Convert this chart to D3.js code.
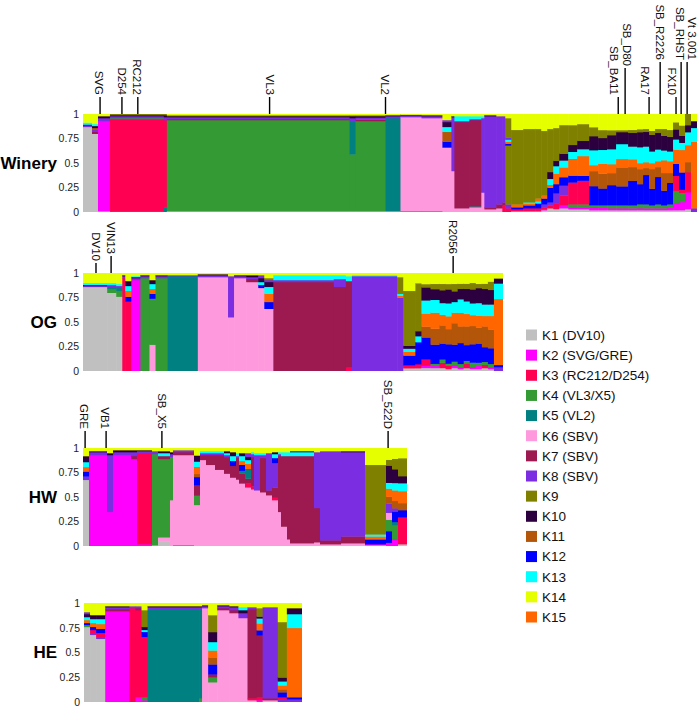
<!DOCTYPE html>
<html><head><meta charset="utf-8">
<script src="https://cdn.jsdelivr.net/npm/d3@7"></script>
<style>body{margin:0;background:#fff}svg{display:block}</style>
</head><body>
<svg id="chart" width="700" height="710"></svg>
<script>
// ---------- data ----------
const clusterNames = ["K1 (DV10)","K2 (SVG/GRE)","K3 (RC212/D254)","K4 (VL3/X5)","K5 (VL2)","K6 (SBV)","K7 (SBV)","K8 (SBV)","K9","K10","K11","K12","K13","K14","K15"];
const clusterColors = ["#c0c0c0","#ff00ff","#ff0052","#349a34","#008080","#ff99dd","#9c1a50","#7b2de2","#808000","#2c003f","#b3560a","#0000ff","#00ffff","#e6ff00","#ff6600"];
const tickValues = [0, 0.25, 0.5, 0.75, 1];
const tickLabels = ["0", "0.25", "0.5", "0.75", "1"];
const panelNames = ["Winery", "OG", "HW", "HE"];

// each bar: [number of samples, [cluster, share, cluster, share, ...] bottom to top]
const wineryBars = [
  [3, [1,.86, 6,.01, 8,.015, 10,.01, 13,.02, 14,.085]],
  [2, [1,.80, 7,.02, 8,.02, 11,.02, 10,.02, 13,.02, 14,.10]],
  [4, [1,.01, 2,.92, 8,.03, 10,.02, 14,.02]],
  [18, [2,.01, 3,.94, 4,.01, 8,.02, 10,.01, 9,.01]],
  [1, [5,.05, 3,.89, 8,.03, 10,.02, 9,.01]],
  [61, [6,.01, 4,.93, 7,.01, 8,.02, 10,.01, 9,.01, 14,.01]],
  [2, [6,.01, 4,.58, 5,.34, 8,.03, 10,.02, 9,.01, 14,.01]],
  [10, [6,.01, 4,.92, 7,.015, 8,.02, 10,.015, 9,.01, 14,.01]],
  [5, [6,.01, 5,.95, 8,.02, 10,.01, 14,.01]],
  [7, [2,.01, 6,.96, 8,.02, 10,.005, 14,.005]],
  [7, [2,.01, 6,.95, 8,.02, 10,.01, 14,.01]],
  [3, [6,.66, 12,.06, 11,.1, 13,.05, 10,.05, 8,.02, 14,.06]],
  [1, [6,.42, 8,.55, 10,.01, 14,.02]],
  [5, [6,.04, 7,.88, 8,.01, 13,.05, 14,.02]],
  [4, [6,.05, 5,.01, 7,.88, 8,.01, 13,.03, 14,.02]],
  [1, [6,.2, 8,.76, 13,.02, 14,.02]],
  [4, [6,.03, 7,.02, 8,.93, 10,.01, 14,.01]],
  [2, [6,.04, 7,.04, 8,.9, 14,.02]],
  [1, [3,.07, 7,.03, 8,.88, 14,.02]],
  [2, [3,.04, 8,.04, 9,.6, 12,.02, 15,.02, 13,.02, 8,.02, 9,.2, 14,.04]],
  [4, [1,.01, 3,.02, 12,.02, 15,.03, 9,.76, 14,.16]],
  [4, [1,.01, 3,.03, 12,.03, 15,.02, 13,.01, 9,.75, 14,.15]],
  [2, [1,.01, 3,.03, 12,.05, 13,.02, 15,.03, 9,.71, 14,.15]],
  [2, [1,.02, 2,.01, 3,.02, 8,.03, 12,.06, 15,.03, 9,.66, 14,.17]],
  [2, [1,.04, 3,.03, 8,.03, 12,.15, 15,.03, 13,.06, 10,.07, 9,.44, 14,.15]],
  [2, [1,.03, 3,.05, 8,.1, 12,.085, 15,.1, 13,.07, 10,.05, 9,.31, 14,.13]],
  [3, [1,.04, 2,.03, 3,.1, 8,.1, 12,.085, 15,.1, 13,.07, 10,.07, 9,.29, 14,.11]],
  [3, [1,.03, 2,.02, 4,.03, 3,.22, 12,.07, 15,.17, 13,.07, 10,.07, 9,.2, 14,.11]],
  [4, [1,.03, 2,.02, 4,.03, 3,.24, 12,.05, 15,.2, 13,.07, 10,.085, 9,.17, 14,.1]],
  [3, [1,.02, 2,.03, 4,.02, 12,.19, 11,.15, 15,.06, 13,.15, 10,.14, 9,.09, 14,.13]],
  [3, [1,.02, 2,.03, 4,.02, 12,.17, 11,.15, 15,.1, 13,.14, 10,.12, 9,.08, 14,.16]],
  [3, [1,.02, 2,.02, 4,.03, 12,.2, 11,.12, 15,.09, 13,.15, 10,.14, 9,.05, 14,.16]],
  [4, [1,.02, 2,.02, 4,.03, 12,.19, 11,.19, 15,.085, 13,.15, 10,.12, 9,.02, 14,.16]],
  [3, [1,.02, 2,.02, 4,.03, 12,.25, 11,.14, 15,.08, 13,.13, 10,.14, 9,.03, 14,.16]],
  [2, [1,.02, 2,.02, 4,.04, 12,.2, 11,.15, 15,.06, 13,.16, 10,.15, 9,.03, 14,.15]],
  [2, [1,.02, 2,.02, 4,.04, 12,.3, 11,.07, 15,.06, 13,.16, 10,.15, 9,.03, 14,.15]],
  [2, [1,.02, 2,.02, 4,.03, 12,.17, 11,.2, 15,.06, 13,.12, 10,.17, 9,.04, 14,.17]],
  [2, [1,.02, 2,.02, 4,.04, 12,.28, 11,.1, 15,.06, 13,.12, 10,.17, 9,.04, 14,.15]],
  [2, [1,.02, 2,.02, 4,.03, 12,.15, 11,.18, 15,.13, 13,.1, 10,.15, 9,.07, 14,.15]],
  [2, [1,.02, 2,.03, 4,.03, 12,.22, 11,.1, 15,.12, 13,.1, 10,.15, 9,.07, 14,.16]],
  [2, [1,.02, 2,.07, 4,.12, 3,.15, 12,.12, 15,.14, 13,.1, 10,.1, 9,.07, 14,.08]],
  [2, [1,.02, 2,.08, 4,.09, 3,.03, 12,.17, 15,.22, 13,.07, 10,.07, 9,.1, 14,.11]],
  [2, [1,.03, 2,.17, 3,.2, 11,.1, 15,.17, 13,.13, 10,.07, 9,.11]],
  [2, [8,.04, 15,.68, 13,.14, 10,.07, 14,.07]]
];

const ogBars = [
  [8, [1,.85, 6,.01, 8,.01, 10,.01, 13,.02, 14,.1]],
  [3, [1,.80, 4,.04, 5,.02, 8,.02, 13,.02, 14,.1]],
  [2, [1,.76, 4,.06, 5,.03, 8,.02, 13,.02, 14,.11]],
  [1, [3,.95, 8,.02, 10,.01, 14,.02]],
  [2, [3,.71, 12,.05, 15,.06, 13,.05, 10,.05, 14,.08]],
  [3, [2,.93, 8,.02, 10,.01, 13,.01, 14,.03]],
  [3, [4,.95, 8,.02, 10,.01, 14,.02]],
  [2, [6,.27, 4,.47, 12,.05, 15,.05, 13,.05, 10,.04, 14,.07]],
  [4, [4,.95, 8,.02, 10,.01, 14,.02]],
  [10, [5,.97, 8,.01, 14,.02]],
  [10, [6,.96, 8,.02, 10,.01, 14,.01]],
  [2, [6,.55, 8,.42, 14,.03]],
  [4, [6,.95, 8,.02, 10,.01, 14,.02]],
  [4, [6,.91, 7,.03, 8,.02, 10,.02, 14,.02]],
  [2, [6,.85, 12,.03, 13,.03, 10,.04, 8,.03, 14,.02]],
  [3, [6,.64, 12,.07, 15,.085, 13,.07, 10,.05, 8,.02, 9,.02, 14,.05]],
  [20, [7,.91, 8,.02, 13,.05, 14,.02]],
  [4, [7,.86, 8,.08, 13,.04, 14,.02]],
  [2, [3,.04, 7,.88, 13,.05, 14,.03]],
  [15, [8,.97, 13,.01, 14,.02]],
  [2, [8,.75, 15,.02, 13,.02, 9,.17, 14,.04]],
  [4, [1,.03, 3,.03, 12,.1, 15,.04, 13,.03, 10,.03, 9,.56, 14,.18]],
  [2, [1,.03, 3,.04, 12,.22, 13,.06, 10,.05, 9,.48, 14,.1]],
  [3, [1,.03, 2,.02, 3,.06, 12,.2, 11,.1, 15,.12, 13,.12, 10,.12, 9,.03, 14,.1]],
  [3, [1,.03, 2,.02, 4,.02, 12,.18, 11,.15, 15,.15, 13,.12, 10,.1, 9,.05, 14,.1]],
  [2, [1,.03, 3,.05, 4,.03, 12,.15, 11,.17, 15,.1, 13,.11, 10,.12, 9,.06, 14,.1]],
  [2, [1,.02, 3,.03, 4,.02, 12,.18, 11,.14, 15,.12, 13,.12, 10,.13, 9,.05, 14,.1]],
  [2, [1,.03, 2,.03, 4,.03, 12,.16, 11,.2, 15,.1, 13,.1, 10,.1, 9,.07, 14,.1]],
  [2, [1,.02, 2,.02, 4,.03, 12,.2, 11,.16, 15,.13, 13,.13, 10,.1, 9,.05, 14,.1]],
  [2, [1,.03, 3,.04, 4,.03, 12,.15, 11,.18, 15,.12, 13,.12, 10,.12, 9,.05, 14,.1]],
  [2, [1,.02, 2,.02, 4,.04, 12,.17, 11,.17, 15,.1, 13,.11, 10,.13, 9,.06, 14,.09]],
  [2, [1,.02, 2,.03, 4,.03, 12,.18, 11,.15, 15,.11, 13,.12, 10,.14, 9,.04, 14,.1]],
  [2, [1,.03, 3,.03, 4,.03, 12,.14, 11,.2, 15,.1, 13,.11, 10,.15, 9,.05, 14,.1]],
  [2, [1,.02, 2,.02, 4,.03, 12,.15, 11,.18, 15,.13, 13,.11, 10,.14, 9,.08, 14,.08]],
  [3, [8,.04, 12,.02, 15,.64, 13,.15, 10,.05, 14,.05]]
];

const hwBars = [
  [2, [1,.67, 8,.035, 12,.05, 15,.045, 13,.05, 10,.06, 14,.08]],
  [6, [2,.93, 8,.03, 10,.01, 14,.03]],
  [2, [2,.35, 8,.58, 10,.02, 14,.05]],
  [6, [2,.93, 8,.03, 10,.02, 14,.02]],
  [2, [2,.89, 7,.03, 8,.04, 10,.02, 14,.02]],
  [5, [2,.02, 3,.93, 8,.02, 10,.01, 14,.02]],
  [2, [1,.01, 4,.93, 8,.03, 14,.03]],
  [4, [1,.05, 6,.04, 4,.8, 7,.03, 13,.03, 10,.02, 14,.03]],
  [1, [6,.47, 4,.44, 8,.03, 10,.02, 14,.04]],
  [7, [2,.01, 6,.92, 7,.03, 8,.02, 14,.02]],
  [2, [6,.4, 4,.09, 7,.1, 12,.08, 11,.03, 15,.07, 13,.05, 10,.06, 14,.07]],
  [2, [6,.88, 7,.05, 8,.02, 13,.02, 14,.03]],
  [3, [6,.83, 7,.1, 8,.02, 13,.02, 14,.03]],
  [3, [6,.78, 7,.15, 8,.02, 13,.02, 14,.03]],
  [2, [6,.74, 7,.17, 8,.02, 13,.02, 10,.02, 14,.03]],
  [2, [6,.7, 7,.12, 12,.05, 13,.05, 10,.04, 14,.04]],
  [1, [6,.68, 7,.22, 8,.02, 13,.03, 14,.05]],
  [2, [6,.64, 7,.1, 5,.03, 12,.06, 15,.04, 13,.05, 10,.03, 14,.05]],
  [2, [6,.6, 3,.04, 7,.05, 5,.1, 15,.05, 13,.04, 10,.03, 8,.04, 14,.05]],
  [1, [6,.58, 3,.03, 7,.3, 8,.03, 13,.02, 14,.04]],
  [2, [6,.57, 8,.36, 13,.02, 14,.05]],
  [2, [6,.55, 7,.35, 8,.03, 13,.02, 14,.05]],
  [2, [6,.52, 7,.05, 8,.38, 14,.05]],
  [2, [6,.47, 3,.03, 7,.1, 8,.25, 12,.05, 13,.04, 10,.02, 14,.04]],
  [1, [6,.35, 7,.57, 8,.02, 13,.02, 14,.04]],
  [2, [6,.2, 7,.72, 13,.04, 14,.04]],
  [1, [6,.07, 7,.85, 13,.04, 14,.04]],
  [8, [6,.03, 7,.89, 13,.04, 10,.01, 14,.03]],
  [2, [6,.04, 7,.35, 8,.57, 14,.04]],
  [7, [6,.02, 7,.04, 8,.91, 14,.03]],
  [8, [6,.03, 7,.07, 8,.86, 10,.01, 14,.03]],
  [7, [1,.01, 2,.01, 12,.05, 15,.03, 13,.02, 9,.71, 14,.17]],
  [2, [2,.03, 12,.1, 4,.1, 6,.06, 8,.08, 11,.06, 15,.07, 13,.05, 10,.15, 9,.05, 14,.1]],
  [2, [2,.07, 4,.13, 5,.03, 12,.1, 8,.03, 11,.07, 15,.1, 13,.07, 10,.13, 9,.1, 14,.1]],
  [3, [1,.02, 3,.27, 12,.07, 11,.07, 15,.12, 13,.08, 10,.07, 9,.18, 14,.1]]
];

const heBars = [
  [2, [1,.76, 4,.02, 12,.02, 15,.03, 13,.03, 10,.03, 8,.02, 14,.09]],
  [2, [1,.68, 8,.02, 3,.03, 12,.03, 15,.04, 13,.04, 10,.04, 14,.12]],
  [3, [1,.64, 8,.02, 3,.04, 12,.04, 15,.05, 13,.05, 10,.04, 14,.12]],
  [8, [2,.92, 7,.02, 8,.02, 10,.01, 14,.03]],
  [2, [3,.95, 8,.02, 14,.03]],
  [2, [2,.05, 3,.88, 7,.02, 8,.02, 14,.03]],
  [2, [2,.02, 4,.03, 3,.61, 12,.05, 13,.02, 10,.03, 9,.17, 14,.07]],
  [17, [5,.94, 8,.02, 10,.01, 14,.03]],
  [1, [4,.04, 5,.9, 8,.02, 10,.01, 14,.03]],
  [2, [6,.95, 8,.02, 10,.01, 14,.02]],
  [3, [6,.2, 4,.05, 7,.03, 12,.1, 11,.07, 15,.07, 13,.085, 10,.1, 9,.17, 14,.12]],
  [4, [6,.93, 7,.02, 8,.02, 10,.01, 14,.02]],
  [3, [6,.9, 7,.03, 8,.03, 10,.01, 14,.03]],
  [3, [6,.85, 8,.05, 10,.03, 13,.03, 14,.04]],
  [3, [6,.02, 3,.02, 7,.9, 8,.02, 14,.04]],
  [2, [2,.02, 3,.03, 7,.63, 12,.05, 15,.07, 13,.05, 10,.02, 9,.085, 14,.05]],
  [5, [6,.02, 7,.02, 8,.92, 14,.04]],
  [3, [8,.03, 3,.02, 12,.05, 11,.03, 15,.04, 13,.04, 10,.04, 9,.56, 14,.19]],
  [5, [8,.03, 12,.02, 15,.7, 13,.14, 10,.06, 14,.05]]
];

// labels: [text, line position (samples), text position (samples), tier]
const wineryLabels = [["SVG",5.7,5.5,0],["D254",13,13,0],["RC212",18.3,18.2,0],["VL3",62.3,62.3,0],["VL2",101,101,0],["SB_BA11",178.7,177.2,0],["SB_D80",181,181.8,3],["RA17",189,187.8,0],["SB_R2226",192.7,192.7,1],["FX10",198,196.7,0],["SB_RHST",199.7,199.5,1],["Vt 3.001",201.7,203.2,1]];
const ogLabels = [["DV10",4.3,4.2,2],["VIN13",9.3,9.2,0],["R2056",122.5,122.3,0]];
const hwLabels = [["GRE",0.7,0.5,0],["VB1",7.7,7.4,0],["SB_X5",26.3,26.3,0],["SB_522D",101.7,101.7,0]];
const heLabels = [];

// ---------- layout ----------
const tierLen = [17, 52, 10, 46];
const panels = [
  {name: panelNames[0], bars: wineryBars, labels: wineryLabels, x0: 83, x1: 697, top: 114, bottom: 212},
  {name: panelNames[1], bars: ogBars,     labels: ogLabels,     x0: 83, x1: 503, top: 273, bottom: 371},
  {name: panelNames[2], bars: hwBars,     labels: hwLabels,     x0: 83, x1: 407, top: 448, bottom: 546},
  {name: panelNames[3], bars: heBars,     labels: heLabels,     x0: 84, x1: 302, top: 603, bottom: 702}
];

const svg = d3.select("#chart");
const color = d3.scaleOrdinal().domain(d3.range(1, 16)).range(clusterColors);
const FONT = "'Liberation Sans', Arial, sans-serif";

panels.forEach(p => {
  const total = d3.sum(p.bars, b => b[0]);
  const x = d3.scaleLinear().domain([0, total]).range([p.x0, p.x1]);
  const y = d3.scaleLinear().domain([0, 1]).range([p.bottom, p.top]);
  const ends = Array.from(d3.cumsum(p.bars, b => b[0]));
  const g = svg.append("g");

  p.bars.forEach((b, i) => {
    const s = i ? ends[i - 1] : 0, e = ends[i];
    const pairs = d3.range(0, b[1].length, 2).map(j => ({k: b[1][j], v: b[1][j + 1]}));
    const sum = d3.sum(pairs, d => d.v);
    const cum = Array.from(d3.cumsum(pairs, d => d.v));
    const last = i === p.bars.length - 1;
    g.selectAll(null).data(pairs).join("rect")
      .attr("x", x(s))
      .attr("width", x(e) - x(s) + (last ? 0 : 0.6))
      .attr("y", (d, j) => y(cum[j] / sum))
      .attr("height", (d, j) => y((cum[j] - d.v) / sum) - y(cum[j] / sum) + (j ? 0.4 : 0))
      .attr("fill", d => color(d.k));
  });

  // y axis labels
  const ax = svg.append("g").attr("transform", `translate(${p.x0 - 3},0)`)
    .call(d3.axisLeft(y).tickValues(tickValues).tickFormat((d, i) => tickLabels[i]).tickSize(0).tickPadding(1));
  ax.select(".domain").remove();
  ax.selectAll("text").attr("font-family", FONT).attr("font-size", 10.5).attr("fill", "#222");

  // panel name
  svg.append("text").attr("x", 57).attr("y", y(0.5)).attr("dy", "0.35em")
    .attr("text-anchor", "end").attr("font-family", FONT).attr("font-weight", "bold")
    .attr("font-size", 17).attr("fill", "#000").text(p.name);

  // sample labels
  p.labels.forEach(([t, pos, tpos, tier]) => {
    const lx = x(pos), tx = x(tpos), len = tierLen[tier];
    svg.append("line").attr("x1", lx).attr("x2", lx).attr("y1", p.top - len).attr("y2", p.top)
      .attr("stroke", "#000").attr("stroke-width", 1.4);
    svg.append("text").attr("transform", `translate(${tx},${p.top - len - 2}) rotate(90)`)
      .attr("text-anchor", "end").attr("dy", "0.35em")
      .attr("font-family", FONT).attr("font-size", 11.5).attr("fill", "#111").text(t);
  });
});

// legend
const ly = d3.scaleLinear().domain([0, 14]).range([335, 617]);
const lg = svg.append("g");
clusterNames.forEach((n, i) => {
  lg.append("rect").attr("x", 526).attr("y", ly(i) - 5.5).attr("width", 11).attr("height", 11).attr("fill", clusterColors[i]);
  lg.append("text").attr("x", 542).attr("y", ly(i)).attr("dy", "0.36em")
    .attr("font-family", FONT).attr("font-size", 13.5).attr("fill", "#111").text(n);
});
</script>
</body></html>
